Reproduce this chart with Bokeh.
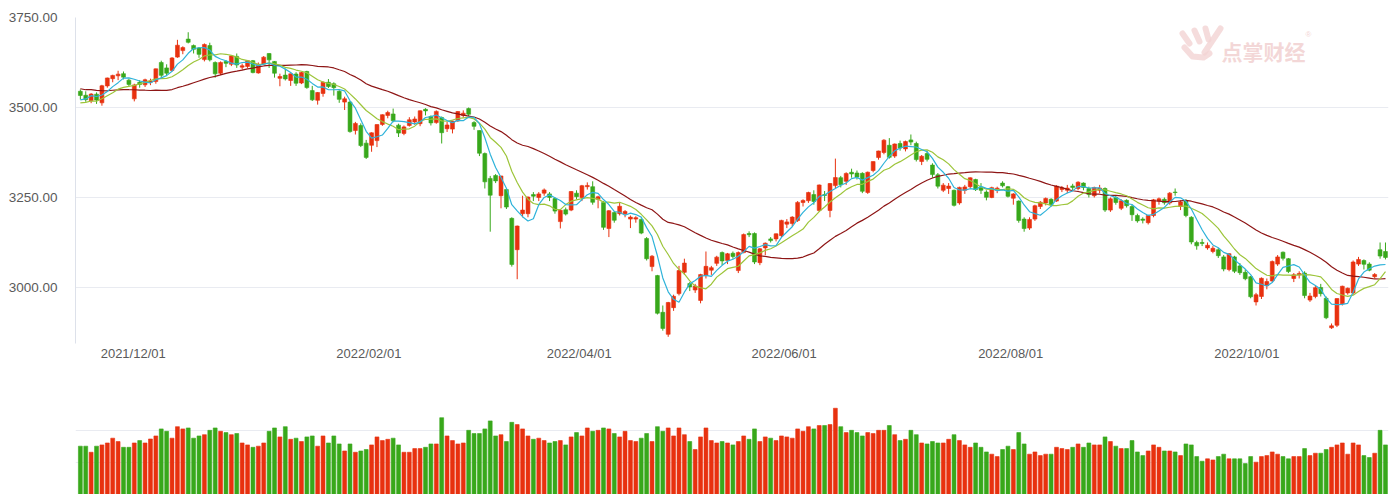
import pandas as pd
from bokeh.plotting import figure
from bokeh.layouts import column
from bokeh.models import ColumnDataSource, Range1d, FixedTicker, Label, NumeralTickFormatter
from bokeh.embed import file_html
from bokeh.resources import INLINE

# ---------------- data ----------------
trade_days = {
    "2021/11": [15, 16, 17, 18, 19, 22, 23, 24, 25, 26, 29, 30],
    "2021/12": [1, 2, 3, 6, 7, 8, 9, 10, 13, 14, 15, 16, 17, 20, 21, 22, 23, 24, 27, 28, 29, 30, 31],
    "2022/01": [4, 5, 6, 7, 10, 11, 12, 13, 14, 17, 18, 19, 20, 21, 24, 25, 26, 27, 28],
    "2022/02": [7, 8, 9, 10, 11, 14, 15, 16, 17, 18, 21, 22, 23, 24, 25, 28],
    "2022/03": [1, 2, 3, 4, 7, 8, 9, 10, 11, 14, 15, 16, 17, 18, 21, 22, 23, 24, 25, 28, 29, 30, 31],
    "2022/04": [1, 6, 7, 8, 11, 12, 13, 14, 15, 18, 19, 20, 21, 22, 25, 26, 27, 28, 29],
    "2022/05": [5, 6, 9, 10, 11, 12, 13, 16, 17, 18, 19, 20, 23, 24, 25, 26, 27, 30, 31],
    "2022/06": [1, 2, 6, 7, 8, 9, 10, 13, 14, 15, 16, 17, 20, 21, 22, 23, 24, 27, 28, 29, 30],
    "2022/07": [1, 4, 5, 6, 7, 8, 11, 12, 13, 14, 15, 18, 19, 20, 21, 22, 25, 26, 27, 28, 29],
    "2022/08": [1, 2, 3, 4, 5, 8, 9, 10, 11, 12, 15, 16, 17, 18, 19, 22, 23, 24, 25, 26, 29, 30, 31],
    "2022/09": [1, 2, 5, 6, 7, 8, 9, 13, 14, 15, 16, 19, 20, 21, 22, 23, 26, 27, 28, 29, 30],
    "2022/10": [10, 11, 12, 13, 14, 17, 18, 19, 20, 21, 24, 25, 26, 27, 28, 31],
    "2022/11": [1, 2, 3, 4, 7, 8, 9, 10, 11, 14],
}

# closes before the first visible day (only used to warm up the moving averages)
warmup_close = [3602.2, 3536.3, 3568.2, 3592.2, 3591.7, 3546.9, 3561.8, 3558.3, 3572.4, 3568.1,
                3593.2, 3587.0, 3594.8, 3582.6, 3609.9, 3597.6, 3562.3, 3518.4, 3547.3, 3544.5,
                3505.6, 3498.5, 3526.9, 3491.6, 3498.6, 3507.0, 3492.5, 3532.8, 3539.1]

open_ = [
    3545, 3534, 3519, 3537, 3513, 3560, 3580, 3588, 3594, 3576,
    3524, 3570, 3563, 3570, 3572, 3625, 3610, 3603, 3640, 3658,
    3690, 3672, 3665, 3633, 3672, 3625, 3595, 3628, 3620, 3642,
    3612, 3614, 3630, 3596, 3621, 3650, 3628, 3581, 3590, 3575,
    3593, 3568, 3600, 3547, 3520, 3539, 3570, 3566, 3545, 3515,
    3515, 3436, 3450, 3401, 3395, 3408, 3453, 3478, 3482, 3451,
    3428, 3450, 3460, 3455, 3495, 3475, 3458, 3472, 3441, 3440,
    3463, 3478, 3497, 3458, 3436, 3372, 3303, 3311, 3255, 3272,
    3192, 3105, 3205, 3205, 3258, 3250, 3262, 3260, 3247, 3183,
    3216, 3215, 3262, 3250, 3280, 3280, 3245, 3236, 3164, 3208,
    3205, 3205, 3190, 3190, 3189, 3136, 3058, 3033, 2931, 2870,
    2944, 2983, 3042, 3011, 2993, 2964, 3033, 3048, 3067, 3097,
    3075, 3095, 3047, 3097, 3150, 3150, 3069, 3110, 3135, 3135,
    3144, 3176, 3178, 3186, 3236, 3241, 3258, 3214, 3258, 3214,
    3283, 3305, 3295, 3320, 3318, 3317, 3264, 3325, 3361, 3375,
    3395, 3365, 3400, 3385, 3410, 3400, 3350, 3372, 3340, 3313,
    3270, 3275, 3270, 3235, 3270, 3280, 3300, 3278, 3265, 3250,
    3270, 3290, 3280, 3248, 3240, 3190, 3165, 3190, 3225, 3235,
    3245, 3240, 3272, 3270, 3282, 3275, 3290, 3275, 3255, 3270,
    3275, 3215, 3250, 3220, 3242, 3225, 3200, 3190, 3180, 3200,
    3240, 3245, 3235, 3265, 3225, 3240, 3195, 3125, 3125, 3110,
    3100, 3105, 3085, 3050, 3085, 3060, 3042, 3030, 2960, 2975,
    3005, 3018, 3065, 3098, 3080, 3025, 3035, 3040, 2965, 2975,
    3000, 2970, 2888, 2895, 2955, 2985, 2985, 3065, 3075, 3065,
    3030, 3105, 3100]

high = [
    3550, 3545, 3540, 3542, 3563, 3583, 3591, 3602, 3600, 3580,
    3566, 3576, 3580, 3580, 3608, 3630, 3620, 3640, 3688, 3670,
    3709, 3675, 3668, 3678, 3680, 3628, 3628, 3632, 3645, 3650,
    3622, 3632, 3632, 3625, 3643, 3651, 3629, 3594, 3608, 3594,
    3598, 3599, 3602, 3560, 3543, 3573, 3579, 3570, 3548, 3530,
    3518, 3460, 3456, 3410, 3431, 3453, 3481, 3491, 3497, 3455,
    3450, 3473, 3475, 3492, 3498, 3478, 3492, 3475, 3460, 3463,
    3490, 3492, 3500, 3462, 3436, 3375, 3310, 3315, 3310, 3275,
    3195, 3172, 3255, 3253, 3265, 3265, 3275, 3265, 3250, 3218,
    3222, 3268, 3270, 3285, 3292, 3295, 3255, 3240, 3215, 3212,
    3235, 3215, 3200, 3198, 3192, 3140, 3090, 3035, 2950, 2960,
    2980, 3060, 3080, 3015, 3010, 3038, 3100, 3060, 3088, 3100,
    3096, 3100, 3100, 3150, 3156, 3153, 3110, 3125, 3140, 3150,
    3188, 3190, 3198, 3240, 3245, 3266, 3270, 3286, 3268, 3290,
    3358, 3310, 3320, 3330, 3325, 3320, 3322, 3350, 3380, 3412,
    3415, 3400, 3408, 3408, 3425, 3405, 3368, 3380, 3345, 3318,
    3290, 3290, 3272, 3280, 3285, 3306, 3302, 3290, 3270, 3280,
    3280, 3295, 3282, 3262, 3242, 3195, 3195, 3230, 3240, 3250,
    3248, 3284, 3282, 3285, 3288, 3295, 3292, 3280, 3280, 3285,
    3278, 3250, 3255, 3245, 3245, 3230, 3205, 3195, 3202, 3246,
    3250, 3250, 3265, 3275, 3242, 3245, 3198, 3130, 3135, 3125,
    3115, 3110, 3090, 3095, 3088, 3068, 3050, 3032, 2985, 3028,
    3025, 3075, 3090, 3100, 3082, 3040, 3045, 3045, 2985, 3005,
    3010, 2975, 2900, 2970, 3005, 3000, 3075, 3085, 3078, 3070,
    3040, 3125, 3125]

low = [
    3522, 3516, 3512, 3510, 3505, 3555, 3570, 3576, 3578, 3559,
    3517, 3555, 3557, 3562, 3566, 3582, 3590, 3600, 3638, 3648,
    3678, 3650, 3638, 3628, 3628, 3583, 3590, 3612, 3615, 3610,
    3605, 3610, 3595, 3594, 3618, 3610, 3583, 3559, 3575, 3560,
    3560, 3565, 3552, 3518, 3508, 3530, 3554, 3533, 3513, 3493,
    3430, 3425, 3390, 3357, 3377, 3390, 3449, 3470, 3459, 3418,
    3423, 3447, 3452, 3448, 3478, 3450, 3455, 3400, 3432, 3428,
    3460, 3472, 3475, 3438, 3365, 3275, 3155, 3290, 3220, 3218,
    3058, 3023, 3195, 3195, 3240, 3240, 3255, 3240, 3205, 3164,
    3200, 3212, 3245, 3240, 3272, 3230, 3220, 3160, 3140, 3180,
    3200, 3195, 3165, 3180, 3148, 3075, 3045, 2925, 2880, 2863,
    2935, 2978, 3035, 2990, 2985, 2956, 3025, 3035, 3060, 3062,
    3065, 3080, 3040, 3095, 3140, 3065, 3062, 3090, 3125, 3128,
    3140, 3165, 3170, 3182, 3225, 3235, 3230, 3210, 3240, 3195,
    3275, 3278, 3285, 3305, 3300, 3262, 3260, 3320, 3355, 3370,
    3358, 3360, 3380, 3378, 3395, 3350, 3340, 3350, 3305, 3275,
    3265, 3260, 3225, 3230, 3260, 3275, 3268, 3260, 3242, 3248,
    3262, 3278, 3250, 3230, 3180, 3155, 3160, 3185, 3218, 3228,
    3225, 3238, 3265, 3262, 3270, 3270, 3270, 3250, 3250, 3262,
    3210, 3210, 3230, 3215, 3222, 3185, 3180, 3178, 3175, 3195,
    3230, 3230, 3230, 3255, 3215, 3195, 3120, 3105, 3115, 3105,
    3095, 3082, 3045, 3045, 3040, 3035, 3020, 2970, 2950, 2968,
    2995, 3015, 3060, 3075, 3040, 3015, 3025, 2970, 2960, 2970,
    2975, 2912, 2885, 2890, 2950, 2980, 2980, 3060, 3050, 3045,
    3025, 3080, 3078]

close = [
    3533.3, 3521.8, 3537.4, 3520.7, 3560.4, 3582.1, 3589.1, 3592.7, 3584.2, 3564.1,
    3562.7, 3563.9, 3576.9, 3573.8, 3607.4, 3589.3, 3595.1, 3637.6, 3673.0, 3666.4,
    3681.1, 3661.5, 3647.6, 3675.0, 3632.4, 3593.6, 3625.1, 3622.6, 3643.3, 3618.1,
    3616.0, 3630.1, 3597.0, 3619.2, 3639.8, 3632.3, 3595.2, 3586.1, 3579.5, 3593.5,
    3567.4, 3597.4, 3555.3, 3521.3, 3541.7, 3569.9, 3558.2, 3555.1, 3522.6, 3524.1,
    3433.1, 3455.7, 3394.3, 3361.4, 3429.6, 3452.6, 3480.0, 3485.9, 3463.0, 3428.9,
    3446.1, 3465.8, 3468.0, 3490.8, 3490.6, 3457.2, 3489.2, 3430.0, 3451.4, 3462.3,
    3488.8, 3484.2, 3481.1, 3447.7, 3372.9, 3293.5, 3256.4, 3296.1, 3309.8, 3223.5,
    3064.0, 3170.7, 3215.0, 3251.1, 3253.7, 3259.9, 3271.0, 3250.3, 3212.2, 3214.5,
    3203.9, 3266.6, 3252.2, 3282.7, 3283.4, 3236.7, 3251.9, 3167.1, 3213.3, 3186.8,
    3225.6, 3211.2, 3195.5, 3194.0, 3151.1, 3079.8, 3086.9, 2928.5, 2886.4, 2958.3,
    2975.5, 3047.1, 3067.8, 3001.6, 3004.1, 3035.8, 3058.7, 3055.0, 3084.3, 3073.8,
    3093.7, 3086.0, 3097.0, 3146.9, 3146.6, 3070.9, 3107.5, 3123.1, 3130.2, 3149.1,
    3186.4, 3182.2, 3195.5, 3236.4, 3241.8, 3263.8, 3239.0, 3284.8, 3255.6, 3288.9,
    3305.4, 3285.4, 3316.8, 3315.4, 3306.7, 3267.2, 3320.2, 3349.8, 3379.2, 3409.2,
    3361.5, 3398.6, 3387.6, 3405.4, 3404.0, 3355.4, 3364.4, 3356.1, 3313.6, 3281.5,
    3284.3, 3281.7, 3228.1, 3278.1, 3279.4, 3304.7, 3272.0, 3270.0, 3250.4, 3277.4,
    3275.8, 3282.6, 3253.2, 3260.0, 3186.3, 3163.7, 3189.0, 3227.0, 3236.9, 3247.4,
    3230.0, 3281.7, 3276.9, 3276.1, 3277.5, 3292.5, 3277.9, 3258.1, 3277.8, 3276.2,
    3215.2, 3246.3, 3236.2, 3240.7, 3227.2, 3202.1, 3185.0, 3186.5, 3199.9, 3243.5,
    3246.3, 3235.6, 3262.1, 3263.8, 3237.5, 3199.9, 3126.4, 3115.6, 3122.4, 3117.2,
    3108.9, 3088.4, 3051.2, 3093.9, 3045.1, 3041.2, 3024.4, 2974.2, 2979.8, 3025.5,
    3016.4, 3072.0, 3084.9, 3081.0, 3044.4, 3035.1, 3038.9, 2977.6, 2976.3, 2999.5,
    2982.9, 2915.9, 2893.5, 2969.2, 3003.4, 2997.8, 3070.8, 3077.8, 3064.5, 3048.2,
    3036.1, 3087.3, 3083.4]

# volume (亿股)
volume = [
    302, 302, 264, 302, 310, 322, 352, 331, 295, 295,
    322, 337, 322, 347, 366, 410, 395, 352, 424, 410,
    416, 352, 366, 374, 401, 416, 395, 387, 374, 381,
    322, 310, 295, 302, 322, 395, 416, 360, 424, 345,
    352, 331, 360, 366, 302, 366, 322, 366, 316, 272,
    316, 264, 272, 281, 310, 360, 337, 345, 352, 310,
    264, 264, 287, 287, 295, 316, 316, 480, 366, 337,
    316, 322, 401, 381, 381, 410, 460, 366, 374, 331,
    451, 437, 410, 366, 345, 352, 337, 322, 331, 337,
    310, 360, 387, 366, 416, 395, 401, 416, 410, 381,
    360, 395, 337, 331, 352, 381, 331, 424, 395, 416,
    366, 416, 374, 331, 281, 360, 416, 337, 322, 331,
    322, 310, 331, 366, 345, 410, 331, 360, 352, 337,
    366, 360, 352, 410, 395, 424, 410, 431, 431, 437,
    539, 424, 387, 401, 387, 366, 387, 381, 401, 401,
    431, 374, 337, 345, 401, 374, 322, 316, 331, 322,
    322, 345, 374, 337, 310, 295, 322, 295, 266, 252,
    237, 281, 302, 281, 387, 316, 252, 266, 243, 252,
    252, 295, 287, 281, 295, 316, 295, 322, 310, 310,
    360, 331, 302, 287, 287, 337, 266, 243, 272, 310,
    295, 272, 272, 266, 243, 316, 310, 237, 208, 223,
    216, 237, 252, 223, 223, 223, 193, 237, 202, 237,
    243, 266, 252, 237, 223, 237, 237, 287, 243, 258,
    258, 281, 295, 310, 322, 252, 322, 310, 243, 231,
    258, 401, 310]

tick_index = [9.8, 53.5, 92.5, 130.5, 172.5, 216.3]
tick_labels = ["2021/12/01", "2022/02/01", "2022/04/01", "2022/06/01", "2022/08/01", "2022/10/01"]
price_ticks = [3000, 3250, 3500, 3750]
ma_periods = [5, 10, 30]

# ---------------- derived ----------------
dates = [f"{m}/{d:02d}" for m, days in trade_days.items() for d in days]
n = len(close)
idx = list(range(n))
UP, DOWN = "#e8310f", "#38a81b"
colors = [UP if c >= o else DOWN for o, c in zip(open_, close)]
s = pd.Series(warmup_close + close)
k = len(warmup_close)
ma = {m: s.rolling(m, min_periods=1).mean().values[k:] for m in ma_periods}

src = ColumnDataSource(dict(
    x=idx, date=dates, open=open_, high=high, low=low, close=close,
    top=[max(o, c) for o, c in zip(open_, close)],
    bottom=[min(o, c) for o, c in zip(open_, close)],
    color=colors, vol=volume, ma5=ma[5], ma10=ma[10], ma30=ma[30]))

FONT = "Liberation Sans"
GRID = "#e9ebf1"
X0, X1, Y0, Y1 = -0.9, 242.56, 2844.4, 3750

p = figure(width=1391, height=370, x_range=Range1d(X0, X1), y_range=Range1d(Y0, Y1),
           output_backend="svg", toolbar_location=None,
           min_border_left=75, min_border_right=3, min_border_top=17, min_border_bottom=27)
p.outline_line_color = None
p.background_fill_color = "white"
p.border_fill_color = "white"

# watermark (decoration): hand logo + name, drawn behind the data
def px2data(px, py):
    return (X0 + (px - 75) / 1313 * (X1 - X0), Y1 - (py - 17) / 326 * (Y1 - Y0))

logo_strokes = [[(1182, 33), (1189, 43)], [(1194, 30), (1199, 41)], [(1205, 28), (1208, 39)],
                [(1220, 28), (1204, 52)], [(1184, 47), (1192, 56), (1203, 57), (1209, 53)]]
xs, ys = [], []
for st in logo_strokes:
    pts = [px2data(a, b) for a, b in st]
    xs.append([q[0] for q in pts])
    ys.append([q[1] for q in pts])
p.multi_line(xs, ys, line_color="#f3d3d3", line_width=6, line_cap="round", line_join="round",
             line_alpha=0.8)
wx, wy = px2data(1221, 50)
p.add_layout(Label(x=wx, y=wy, text="点掌财经", text_font="Noto Sans CJK SC", text_font_style="bold",
                   text_font_size="21px", text_color="#f0caca", text_alpha=0.75,
                   text_baseline="middle"))
rx, ry = px2data(1305, 34)
p.add_layout(Label(x=rx, y=ry, text="®", text_font=FONT, text_font_size="8px",
                   text_color="#f0caca", text_alpha=0.8, text_baseline="middle"))

p.segment(x0="x", y0="high", x1="x", y1="low", color="color", line_width=1, source=src)
p.vbar(x="x", width=0.72, top="top", bottom="bottom", fill_color="color", line_color="color",
       line_width=0.6, source=src)
p.line("x", "ma30", color="#8e1616", line_width=1.2, source=src)
p.line("x", "ma10", color="#9dc53a", line_width=1.2, source=src)
p.line("x", "ma5", color="#2fb3da", line_width=1.2, source=src)

p.xgrid.visible = False
p.ygrid.ticker = FixedTicker(ticks=price_ticks)
p.ygrid.grid_line_color = GRID
p.yaxis.ticker = FixedTicker(ticks=price_ticks)
p.yaxis.formatter = NumeralTickFormatter(format="0.00")
p.yaxis.axis_line_color = "#dde1ea"
p.yaxis.major_tick_line_color = None
p.yaxis.major_tick_out = 0
p.yaxis.major_tick_in = 0
p.yaxis.minor_tick_line_color = None
p.yaxis.major_label_standoff = 18
p.yaxis.major_label_text_font = FONT
p.yaxis.major_label_text_font_size = "13.5px"
p.yaxis.major_label_text_color = "#5a5a5a"

p.xaxis.ticker = FixedTicker(ticks=tick_index)
p.xaxis.major_label_overrides = {i: lab for i, lab in zip(tick_index, tick_labels)}
p.xaxis.axis_line_color = None
p.xaxis.major_tick_line_color = None
p.xaxis.major_tick_out = 0
p.xaxis.major_tick_in = 0
p.xaxis.minor_tick_line_color = None
p.xaxis.major_label_standoff = 2
p.xaxis.major_label_text_font = FONT
p.xaxis.major_label_text_font_size = "13px"
p.xaxis.major_label_text_color = "#5a5a5a"

pv = figure(width=1391, height=124, x_range=p.x_range, y_range=Range1d(0, 600),
            output_backend="svg", toolbar_location=None,
            min_border_left=75, min_border_right=3, min_border_top=28, min_border_bottom=0)
pv.outline_line_color = None
pv.vbar(x="x", width=0.72, top="vol", bottom=0, fill_color="color", line_color="color",
        line_width=0.6, source=src)
pv.xaxis.visible = False
pv.yaxis.visible = False
pv.xgrid.visible = False
pv.ygrid.ticker = FixedTicker(ticks=[0, 200, 400, 600])
pv.ygrid.grid_line_color = GRID

layout = column(p, pv, spacing=0)
open("out.html", "w").write(file_html(layout, INLINE))
